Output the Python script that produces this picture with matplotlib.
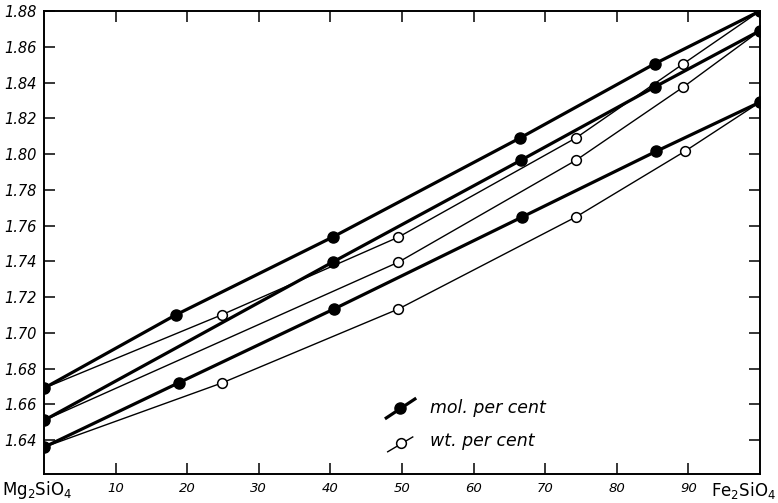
import numpy as np
import matplotlib
matplotlib.use('Agg')
import matplotlib.pyplot as plt

# composition (per cent Fe2SiO4) and refractive indices
gamma_mol_x = [0, 18.4, 40.3, 66.5, 85.3, 100]
gamma_mol_y = [1.669, 1.710, 1.7535, 1.809, 1.8505, 1.880]
gamma_wt_x = [0, 24.8, 49.5, 74.3, 89.3, 100]
gamma_wt_y = [1.669, 1.710, 1.7535, 1.809, 1.8505, 1.880]

beta_mol_x = [0, 40.3, 66.6, 85.3, 100]
beta_mol_y = [1.651, 1.7395, 1.7965, 1.8375, 1.869]
beta_wt_x = [0, 49.5, 74.3, 89.3, 100]
beta_wt_y = [1.651, 1.7395, 1.7965, 1.8375, 1.869]

alpha_mol_x = [0, 18.8, 40.5, 66.8, 85.5, 100]
alpha_mol_y = [1.636, 1.672, 1.7133, 1.7648, 1.8015, 1.829]
alpha_wt_x = [0, 24.9, 49.5, 74.3, 89.5, 100]
alpha_wt_y = [1.636, 1.672, 1.7133, 1.7648, 1.8015, 1.829]

xtick_vals = [10, 20, 30, 40, 50, 60, 70, 80, 90]
ytick_vals = np.round(np.arange(1.64, 1.881, 0.02), 2)

fig = plt.figure(figsize=(7.78, 5.03), dpi=100)
ax = fig.add_axes([44/778, 29/503, 716/778, 463/503])

mol_style = dict(color='black', lw=2.3, marker='o', ms=8, mfc='black', mec='black', zorder=3)
wt_style = dict(color='black', lw=1.0, marker='o', ms=7, mfc='white', mec='black', mew=1.1, zorder=2)

for x, y in [(gamma_wt_x, gamma_wt_y), (beta_wt_x, beta_wt_y), (alpha_wt_x, alpha_wt_y)]:
    ax.plot(x, y, **wt_style)
for x, y in [(gamma_mol_x, gamma_mol_y), (beta_mol_x, beta_mol_y), (alpha_mol_x, alpha_mol_y)]:
    ax.plot(x, y, **mol_style)

ax.set_xlim(0, 100)
ax.set_ylim(1.621, 1.88)
ax.set_xticks(xtick_vals)
ax.set_xticklabels([str(v) for v in xtick_vals], style='italic', fontsize=9.5)
ax.set_yticks(ytick_vals)
ax.set_yticklabels(['%.2f' % v for v in ytick_vals], style='italic', fontsize=10.5)
ax.tick_params(direction='in', length=8, width=1.1, top=True, right=True, pad=6)
ax.tick_params(axis='y', pad=5)
for s in ax.spines.values():
    s.set_linewidth(1.4)

# end-member names under the two ends of the x axis
ax.text(-0.059, -0.035, 'Mg$_2$SiO$_4$', transform=ax.transAxes, ha='left', va='center', fontsize=12, clip_on=False)
ax.text(1.022, -0.035, 'Fe$_2$SiO$_4$', transform=ax.transAxes, ha='right', va='center', fontsize=12, clip_on=False)

# legend drawn by hand with slanted samples
ax.plot([0.478, 0.518], [0.121, 0.162], transform=ax.transAxes, color='black', lw=2.3)
ax.plot([0.497], [0.142], transform=ax.transAxes, marker='o', ms=8, color='black')
ax.text(0.539, 0.143, 'mol. per cent', transform=ax.transAxes, style='italic', fontsize=12.5, va='center')
ax.plot([0.480, 0.515], [0.048, 0.080], transform=ax.transAxes, color='black', lw=1.0)
ax.plot([0.499], [0.066], transform=ax.transAxes, marker='o', ms=7, mfc='white', mec='black', mew=1.1)
ax.text(0.539, 0.071, 'wt. per cent', transform=ax.transAxes, style='italic', fontsize=12.5, va='center')

fig.savefig('out.png', dpi=100)
